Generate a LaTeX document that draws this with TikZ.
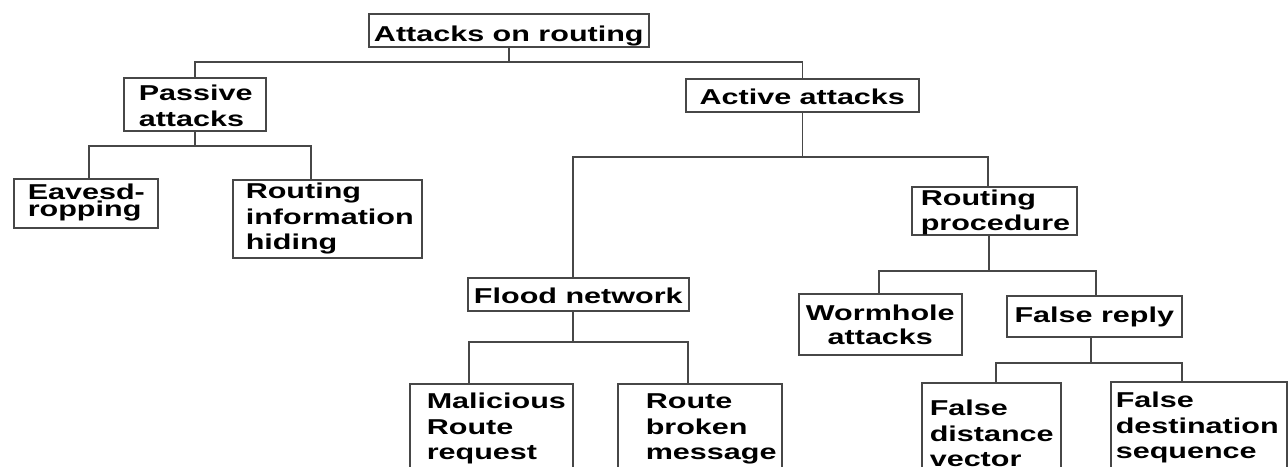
\documentclass[tikz,border=0pt]{standalone}
\usepackage{fontspec}
\setmainfont{Liberation Sans}[FakeStretch=1.42]
\hyphenpenalty=10000
\exhyphenpenalty=10000
\begin{document}
\begin{tikzpicture}[x=1pt,y=-1pt,
  box/.style={draw=black!72, line width=1.6pt, inner ysep=0pt, anchor=north west, text=black,
    font=\fontsize{21.5}{25.5}\selectfont\bfseries},
  one/.style={box, inner xsep=0pt, align=center},
  multi/.style={box, align=left},
  conn/.style={draw=black!72, line width=1.6pt}]
\useasboundingbox (0,0) rectangle (1288,466);
\clip (0,0) rectangle (1288,466);
\fill[white] (0,0) rectangle (1288,466);

% nodes
\node[one, minimum width=280pt, text height=27.5pt, text depth=5.5pt] (root) at (368,13) {Attacks on routing};
\node[multi, inner xsep=15pt, text width=112pt, text height=23pt, text depth=30pt] (passive) at (123,77) {Passive\\attacks};
\node[one, minimum width=233pt, text height=26pt, text depth=7pt] (active) at (685,78) {Active attacks};
\node[multi, inner xsep=14pt, text width=116pt, text height=21pt, text depth=28pt,
      font=\fontsize{21.5}{17}\selectfont\bfseries] (eaves) at (13,178) {Eavesd-\\ropping};
\node[multi, inner xsep=13pt, text width=163pt, text height=19pt, text depth=59pt] (rih) at (232,179) {Routing\\information\\hiding};
\node[one, minimum width=221pt, text height=26pt, text depth=7pt] (flood) at (467,277) {Flood network};
\node[multi, inner xsep=9pt, text width=147pt, text height=19pt, text depth=29pt,
      font=\fontsize{21.5}{25}\selectfont\bfseries] (rp) at (911,186) {Routing\\procedure};
\node[box, align=center, inner xsep=5pt, text width=153pt, text height=27pt, text depth=34pt,
      font=\fontsize{21.5}{24}\selectfont\bfseries] (worm) at (798,293) {Wormhole\\attacks};
\node[one, minimum width=175pt, text height=27pt, text depth=14pt] (fr) at (1006,295) {False reply};
\node[multi, inner xsep=17pt, text width=129pt, text height=25pt, text depth=100pt] (mal) at (409,383) {Malicious\\Route\\request};
\node[multi, inner xsep=28pt, text width=108pt, text height=25pt, text depth=100pt] (rbm) at (617,383) {Route\\broken\\message};
\node[multi, inner xsep=8pt, text width=123pt, text height=33pt, text depth=100pt] (fdv) at (921,382) {False\\distance\\vector};
\node[multi, inner xsep=5pt, text width=166pt, text height=26pt, text depth=100pt] (fds) at (1110,381) {False\\destination\\sequence};

% bus levels
\coordinate (bus0) at (0,62);
\coordinate (bus1) at (0,146);
\coordinate (bus2) at (0,157);
\coordinate (bus3) at (0,271);
\coordinate (bus4) at (0,342);
\coordinate (bus5) at (0,363);

% attach points
\coordinate (eT) at ([xshift=3pt]eaves.north);
\coordinate (rT) at ([xshift=-16.5pt]rih.north);
\coordinate (fT) at ([xshift=-5.5pt]flood.north);
\coordinate (fB) at ([xshift=-5.5pt]flood.south);
\coordinate (pT) at ([xshift=-6.5pt]rp.north);
\coordinate (pB) at ([xshift=-5.5pt]rp.south);
\coordinate (wT) at ([xshift=-1.5pt]worm.north);
\coordinate (frT) at ([xshift=1.5pt]fr.north);
\coordinate (frB) at ([xshift=-3.5pt]fr.south);
\coordinate (mT) at ([xshift=-22.5pt]mal.north);
\coordinate (bT) at ([xshift=-12pt]rbm.north);
\coordinate (dT) at ([xshift=4.5pt]fdv.north);
\coordinate (sT) at ([xshift=-17pt]fds.north);

% connectors
\draw[conn] (root.south) -- (root.south |- bus0);
\draw[conn] (passive.north) |- (active.north |- bus0) -- (active.north);
\draw[conn] (passive.south) -- (passive.south |- bus1);
\draw[conn] (eT) |- (rT |- bus1) -- (rT);
\draw[conn] (active.south) -- (active.south |- bus2);
\draw[conn] (fT) |- (pT |- bus2) -- (pT);
\draw[conn] (pB) -- (pB |- bus3);
\draw[conn] (wT) |- (frT |- bus3) -- (frT);
\draw[conn] (fB) -- (fB |- bus4);
\draw[conn] (mT) |- (bT |- bus4) -- (bT);
\draw[conn] (frB) -- (frB |- bus5);
\draw[conn] (dT) |- (sT |- bus5) -- (sT);
\end{tikzpicture}
\end{document}
